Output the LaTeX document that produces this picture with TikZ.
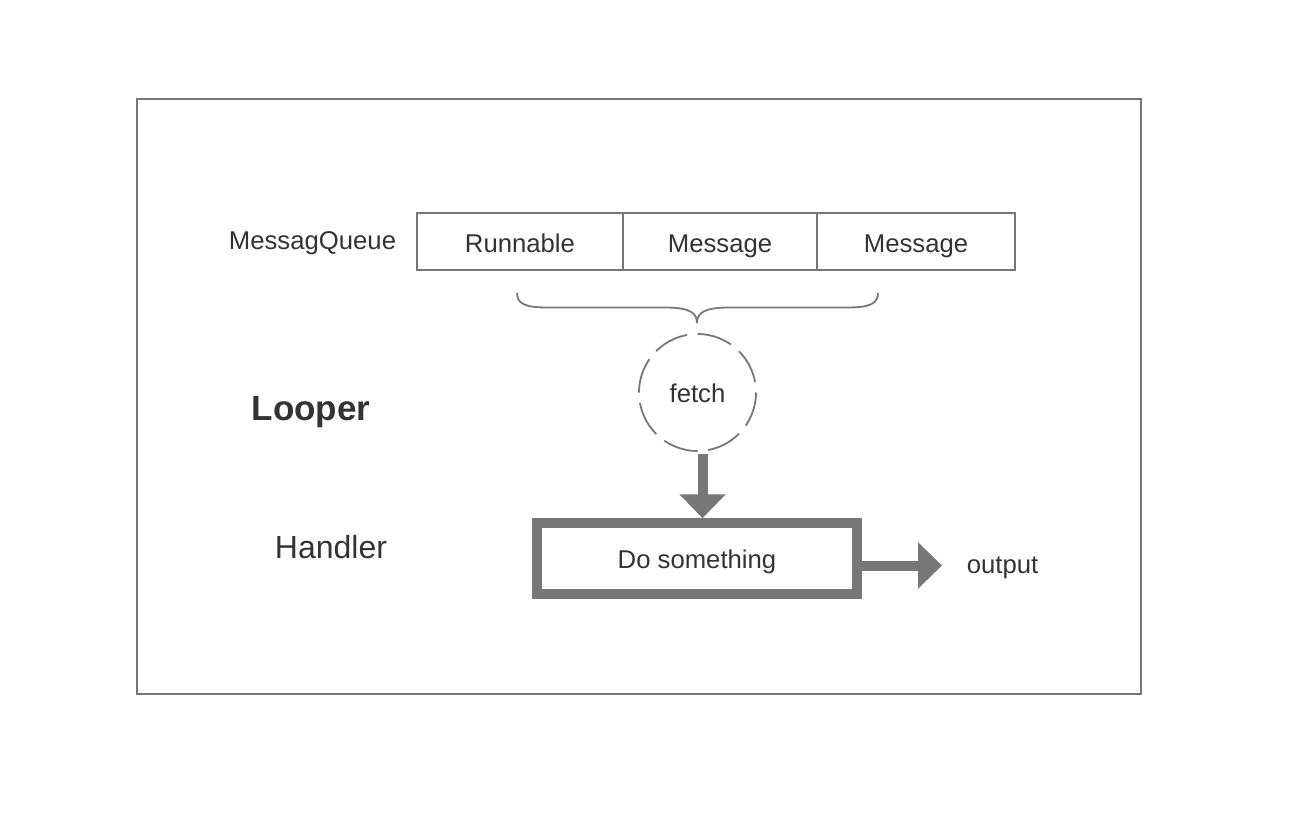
\documentclass[tikz,border=0pt]{standalone}
\usepackage{fontspec}
\setmainfont{Liberation Sans}
\usetikzlibrary{arrows.meta}
\definecolor{linegray}{HTML}{777777}
\definecolor{textgray}{HTML}{333333}
\tikzset{
  txt/.style={text=textgray, font=\fontsize{25.7}{30}\selectfont, inner sep=0pt},
  cell/.style={txt, draw=linegray, line width=2pt, minimum height=57pt, text height=21pt, text depth=0pt, anchor=center},
  fatarrow/.style={draw=linegray, line width=10pt, -{Triangle[length=24pt,width=45pt]}},
}
\begin{document}
\begin{tikzpicture}[x=1pt,y=-1pt]
\useasboundingbox (0,0) rectangle (1296,840);
\fill[white] (0,0) rectangle (1296,840);
% outer frame
\node[draw=linegray, line width=2pt, minimum width=1004pt, minimum height=595pt, inner sep=0pt] (frame) at (639,396.5) {};
% queue
\node[cell, minimum width=206pt] (q1) at (520,241.5) {Runnable};
\node[cell, minimum width=194pt] (q2) at (720,241.5) {Message};
\node[cell, minimum width=198pt] (q3) at (916,241.5) {Message};
\node[txt, anchor=base] (mq) at (312.5,249) {MessagQueue};
% brace
\draw[linegray, line width=1.8pt] (517,293) .. controls (517,304) and (526,307.5) .. (547,307.5) -- (665,307.5) .. controls (690,307.5) and (697,313) .. (697,323)
  .. controls (697,313) and (704,307.5) .. (729,307.5) -- (848,307.5) .. controls (869,307.5) and (878,304) .. (878,293);
% labels
\node[txt, anchor=base, font=\fontsize{35}{40}\selectfont\bfseries] (looper) at (311,420) {Looper};
\node[txt, anchor=base, font=\fontsize{32}{38}\selectfont] (handler) at (331,558) {Handler};
% fetch
\node[txt, draw=linegray, line width=1.8pt, dash pattern=on 35.5pt off 10.5pt, dash phase=35.7pt, circle, minimum size=117pt, text height=19pt, text depth=0pt] (fetch) at (697.5,392.5) {fetch};
% do something
\node[txt, draw=linegray, line width=9.5pt, minimum width=320pt, minimum height=71pt, text height=19pt, text depth=0pt] (do) at (697,558.5) {Do something};
% output
\node[txt, anchor=base] (out) at (1002.5,573) {output};
\coordinate (outtip) at (942,565.5);
% arrows
\draw[fatarrow] ([xshift=5pt,yshift=-2.5pt]fetch.south) -- ([xshift=5pt]fetch.south |- do.north);
\draw[fatarrow] ([yshift=-7pt]do.east) -- (outtip);
\end{tikzpicture}
\end{document}
